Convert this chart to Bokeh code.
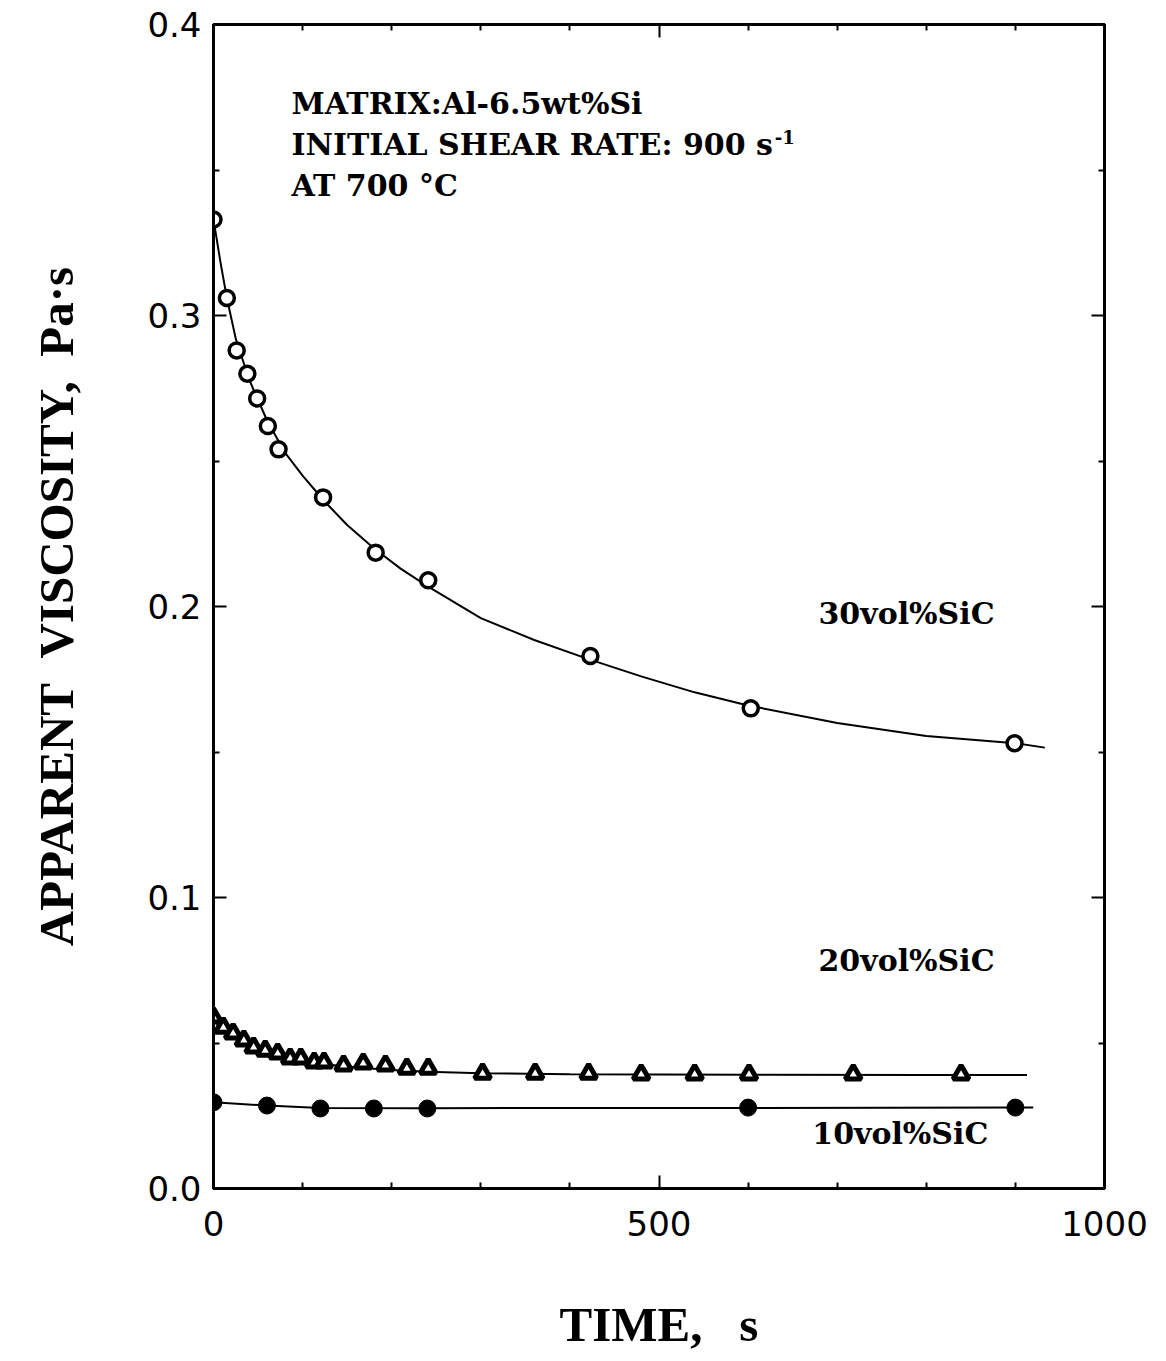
from bokeh.plotting import figure
from bokeh.models import Range1d, LinearAxis, FixedTicker, NumeralTickFormatter, Label
from bokeh.embed import file_html
from bokeh.resources import INLINE

# ---- data ----
t30 = [0, 15, 26, 38, 49, 61, 73, 123, 182, 241, 423, 603, 899]
v30 = [0.333, 0.306, 0.288, 0.280, 0.2715, 0.262, 0.254, 0.2375, 0.2185, 0.209, 0.183, 0.165, 0.153]

t20 = [0, 11, 22, 34, 45, 58, 72, 86, 98, 113, 124, 146, 168, 193, 217, 241,
       302, 361, 421, 480, 540, 601, 718, 839]
v20 = [0.0588, 0.0553, 0.0533, 0.0509, 0.0485, 0.0474, 0.0464, 0.0447, 0.0447, 0.0433, 0.0433,
       0.0423, 0.043, 0.0423, 0.0412, 0.0412,
       0.0395, 0.0395, 0.0395, 0.0392, 0.0392, 0.0392, 0.0392, 0.0392]

t10 = [0, 60, 120, 180, 240, 600, 900]
v10 = [0.0296, 0.0285, 0.0275, 0.0275, 0.0275, 0.0278, 0.0278]

fit30_t = [0, 8, 15, 25, 40, 60, 80, 100, 125, 150, 180, 210, 240, 300, 360, 420, 480, 540, 600, 700, 800, 900, 933]
fit30_v = [0.333, 0.318, 0.306, 0.292, 0.278, 0.264, 0.253, 0.245, 0.236, 0.228, 0.220, 0.213, 0.207,
           0.196, 0.1885, 0.182, 0.176, 0.1705, 0.166, 0.160, 0.1555, 0.153, 0.1515]

fit20_t = [0, 20, 40, 60, 80, 100, 130, 160, 200, 240, 300, 400, 600, 800, 913]
fit20_v = [0.0575, 0.0528, 0.0494, 0.0468, 0.0450, 0.0437, 0.0425, 0.0416, 0.0407, 0.0401,
           0.0396, 0.0393, 0.0391, 0.0390, 0.0390]

fit10_t = [0, 60, 120, 240, 600, 920]
fit10_v = [0.0296, 0.0285, 0.0277, 0.0276, 0.0277, 0.0278]

x_major = [0, 500, 1000]
x_minor = [100, 200, 300, 400, 600, 700, 800, 900]
y_major = [0.0, 0.1, 0.2, 0.3, 0.4]
y_minor = [0.05, 0.15, 0.25, 0.35]

series_labels = ["30vol%SiC", "20vol%SiC", "10vol%SiC"]
info_lines = ["MATRIX:Al-6.5wt%Si", "INITIAL SHEAR RATE: 900 s", "AT 700 °C"]
NB = "\u00a0"

# ---- figure ----
p = figure(width=1150, height=1358, x_range=Range1d(0, 1000), y_range=Range1d(0, 0.4),
           output_backend="svg", toolbar_location=None,
           min_border_left=213, min_border_top=24, min_border_right=46, min_border_bottom=170)
p.grid.visible = False
p.outline_line_color = "black"
p.outline_line_width = 3
p.background_fill_color = "white"
p.border_fill_color = "white"

tick_font = "DejaVu Sans"
label_font = "Liberation Serif"

for ax in (p.xaxis[0], p.yaxis[0]):
    ax.axis_line_width = 3
    ax.major_tick_in = 13
    ax.major_tick_out = 0
    ax.minor_tick_in = 6
    ax.minor_tick_out = 0
    ax.major_tick_line_width = 2
    ax.minor_tick_line_width = 2
    ax.major_label_text_font = tick_font
    ax.major_label_text_font_size = "34px"
    ax.major_label_text_color = "black"
    ax.axis_label_text_font = label_font
    ax.axis_label_text_font_style = "bold"
    ax.axis_label_text_font_size = "49px"
    ax.axis_label_text_color = "black"

p.xaxis[0].ticker = FixedTicker(ticks=x_major, minor_ticks=x_minor)
p.yaxis[0].ticker = FixedTicker(ticks=y_major, minor_ticks=y_minor)
p.yaxis[0].formatter = NumeralTickFormatter(format="0.0")
p.xaxis[0].axis_label = "TIME," + NB * 3 + "s"
p.yaxis[0].axis_label = "APPARENT" + NB * 2 + "VISCOSITY," + NB * 2 + "Pa·s"
p.xaxis[0].major_label_standoff = 22
p.yaxis[0].major_label_standoff = 12
p.xaxis[0].axis_label_standoff = 58
p.yaxis[0].axis_label_standoff = 60

top = LinearAxis(ticker=FixedTicker(ticks=x_major, minor_ticks=x_minor),
                 major_label_overrides={v: "" for v in x_major})
right = LinearAxis(ticker=FixedTicker(ticks=y_major, minor_ticks=y_minor),
                   major_label_overrides={v: "" for v in y_major})
for ax in (top, right):
    ax.axis_line_width = 3
    ax.major_tick_in = 13
    ax.major_tick_out = 0
    ax.minor_tick_in = 6
    ax.minor_tick_out = 0
    ax.major_tick_line_width = 2
    ax.minor_tick_line_width = 2
    ax.major_label_text_font_size = "1px"
    ax.major_label_standoff = 0
p.add_layout(top, "above")
p.add_layout(right, "right")

# ---- curves ----
p.line(fit30_t, fit30_v, line_color="black", line_width=2)
p.line(fit20_t, fit20_v, line_color="black", line_width=2)
p.line(fit10_t, fit10_v, line_color="black", line_width=2)

# ---- markers ----
p.scatter(t30, v30, marker="circle", size=15, fill_color="white", line_color="black", line_width=3.5)
p.scatter(t20, v20, marker="triangle", size=16, fill_color="white", line_color="black", line_width=5)
p.scatter(t10, v10, marker="circle", size=17, fill_color="black", line_color="black", line_width=1)

# ---- annotations ----
ann_font = "DejaVu Serif"
def add_label(x, y, text, size="30px"):
    p.add_layout(Label(x=x, y=y, text=text, text_font=ann_font, text_font_style="bold",
                       text_font_size=size, text_color="black", text_baseline="middle"))

add_label(87.5, 0.3729, info_lines[0])
add_label(87.5, 0.3588, info_lines[1])
add_label(87.5, 0.3447, info_lines[2])
add_label(630, 0.3612, "-1", size="18px")

add_label(679, 0.1976, series_labels[0])
add_label(679, 0.0784, series_labels[1])
add_label(672, 0.0189, series_labels[2])

open("out.html", "w").write(file_html(p, INLINE))
